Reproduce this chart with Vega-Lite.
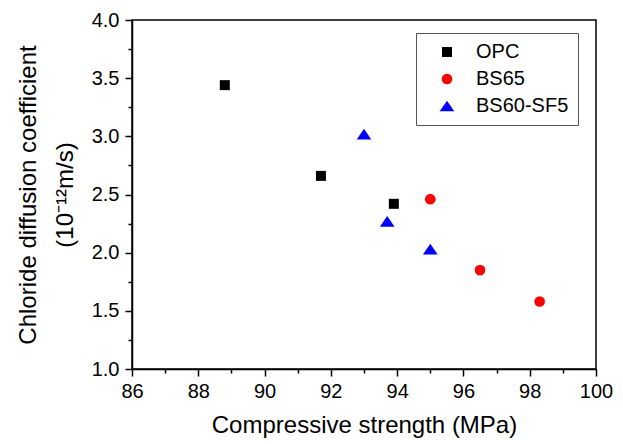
{
  "$schema": "https://vega.github.io/schema/vega-lite/v6.json",
  "width": 464,
  "height": 349,
  "autosize": "none",
  "padding": {"left": 132, "top": 20, "right": 27, "bottom": 75},
  "background": "white",
  "config": {
    "font": "Liberation Sans",
    "view": {"stroke": "black", "strokeWidth": 1.5},
    "axis": {
      "domainColor": "black", "domainWidth": 1.5,
      "tickColor": "black", "tickWidth": 1.5,
      "labelColor": "black", "titleColor": "black",
      "labelFont": "Liberation Sans", "labelFontSize": 20,
      "titleFont": "Liberation Sans", "titleFontSize": 24, "titleFontWeight": "normal",
      "grid": false, "labelOverlap": false, "labelFlush": false
    },
    "legend": {
      "orient": "none", "legendX": 284, "legendY": 13,
      "strokeColor": "#555555", "strokeWidth": 1, "fillColor": "white",
      "padding": 9, "symbolOffset": 12, "labelOffset": 19,
      "labelFont": "Liberation Sans", "labelFontSize": 20, "labelColor": "black",
      "rowPadding": 7, "symbolStrokeWidth": 0
    }
  },
  "data": {
    "values": [
      {"series": "OPC", "strength": 88.8, "coef": 3.44},
      {"series": "OPC", "strength": 91.7, "coef": 2.66},
      {"series": "OPC", "strength": 93.9, "coef": 2.42},
      {"series": "BS65", "strength": 95.0, "coef": 2.46},
      {"series": "BS65", "strength": 96.5, "coef": 1.85},
      {"series": "BS65", "strength": 98.3, "coef": 1.58},
      {"series": "BS60-SF5", "strength": 93.0, "coef": 3.02},
      {"series": "BS60-SF5", "strength": 93.7, "coef": 2.27},
      {"series": "BS60-SF5", "strength": 95.0, "coef": 2.03}
    ]
  },
  "mark": {"type": "point", "filled": true, "opacity": 1, "strokeWidth": 0},
  "encoding": {
    "x": {
      "field": "strength", "type": "quantitative",
      "scale": {"domain": [86, 100], "nice": false, "zero": false},
      "axis": {
        "title": "Compressive strength (MPa)",
        "values": [86, 87, 88, 89, 90, 91, 92, 93, 94, 95, 96, 97, 98, 99, 100],
        "labelExpr": "datum.value % 2 == 0 ? datum.label : ''",
        "tickSize": {"condition": {"test": "datum.value % 2 == 0", "value": 7}, "value": 4},
        "labelPadding": 5, "titlePadding": 12
      }
    },
    "y": {
      "field": "coef", "type": "quantitative",
      "scale": {"domain": [1, 4], "nice": false, "zero": false},
      "axis": {
        "title": ["Chloride diffusion coefficient", "(10⁻¹²m/s)"],
        "titleLineHeight": 37,
        "values": [1, 1.25, 1.5, 1.75, 2, 2.25, 2.5, 2.75, 3, 3.25, 3.5, 3.75, 4],
        "format": ".1f",
        "labelExpr": "datum.value % 0.5 == 0 ? datum.label : ''",
        "tickSize": {"condition": {"test": "datum.value % 0.5 == 0", "value": 7}, "value": 4},
        "labelPadding": 6, "titlePadding": 14
      }
    },
    "color": {
      "field": "series", "type": "nominal",
      "scale": {"domain": ["OPC", "BS65", "BS60-SF5"], "range": ["black", "red", "blue"]},
      "legend": {"title": null}
    },
    "shape": {
      "field": "series", "type": "nominal",
      "scale": {"domain": ["OPC", "BS65", "BS60-SF5"], "range": ["square", "circle", "M-1.3,0.95L1.3,0.95L0,-0.95Z"]},
      "legend": {"title": null}
    },
    "size": {
      "field": "series", "type": "nominal",
      "scale": {"domain": ["OPC", "BS65", "BS60-SF5"], "range": [100, 128, 150]},
      "legend": {"title": null}
    }
  }
}
